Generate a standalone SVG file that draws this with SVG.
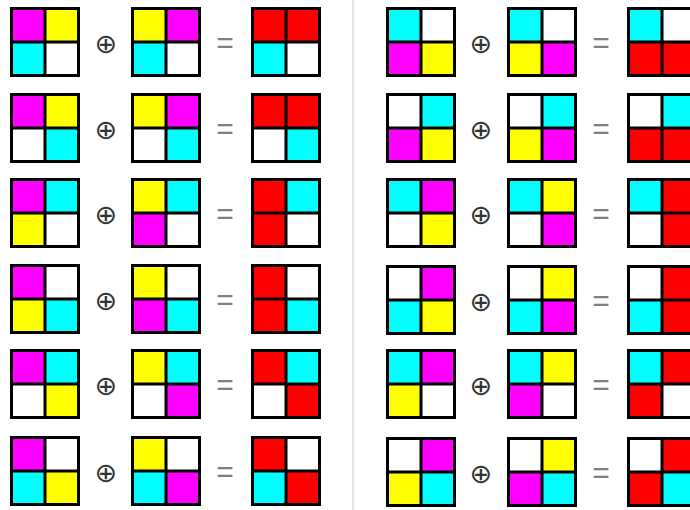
<svg xmlns="http://www.w3.org/2000/svg" xmlns:xlink="http://www.w3.org/1999/xlink" width="690" height="510" viewBox="0 0 690 510">
<style>
.m{fill:#ff00ff}.y{fill:#ffff00}.c{fill:#00ffff}.w{fill:#ffffff}.r{fill:#ff0000}
.fr{fill:none;stroke:#000;stroke-width:3}
.op{font-family:"DejaVu Sans",sans-serif;font-size:27px;fill:#333;text-anchor:middle;dominant-baseline:central}
.eq{font-family:"Liberation Sans",sans-serif;font-size:30px;fill:#808080;text-anchor:middle;dominant-baseline:central}
</style>
<defs>
<g id="frame"><rect class="fr" x="1.5" y="1.5" width="67" height="67"/><path class="fr" d="M35 0V70M0 35H70"/></g>
<rect id="tl" x="0" y="0" width="35" height="35"/>
<rect id="tr" x="35" y="0" width="35" height="35"/>
<rect id="bl" x="0" y="35" width="35" height="35"/>
<rect id="br" x="35" y="35" width="35" height="35"/>
</defs>
<rect width="690" height="510" fill="#fff"/>
<line x1="353" y1="0" x2="353" y2="510" stroke="#dddddd" stroke-width="1.5"/>
<!-- Left column -->
<g id="L1" transform="translate(0,7)">
<g id="L1a" transform="translate(10,0)"><use href="#tl" class="m"/><use href="#tr" class="y"/><use href="#bl" class="c"/><use href="#br" class="w"/><use href="#frame"/></g>
<text class="op" x="106" y="36">⊕</text>
<g id="L1b" transform="translate(131,0)"><use href="#tl" class="y"/><use href="#tr" class="m"/><use href="#bl" class="c"/><use href="#br" class="w"/><use href="#frame"/></g>
<text class="eq" x="225" y="35">=</text>
<g id="L1c" transform="translate(251,0)"><use href="#tl" class="r"/><use href="#tr" class="r"/><use href="#bl" class="c"/><use href="#br" class="w"/><use href="#frame"/></g>
</g>
<g id="L2" transform="translate(0,93)">
<g id="L2a" transform="translate(10,0)"><use href="#tl" class="m"/><use href="#tr" class="y"/><use href="#bl" class="w"/><use href="#br" class="c"/><use href="#frame"/></g>
<text class="op" x="106" y="36">⊕</text>
<g id="L2b" transform="translate(131,0)"><use href="#tl" class="y"/><use href="#tr" class="m"/><use href="#bl" class="w"/><use href="#br" class="c"/><use href="#frame"/></g>
<text class="eq" x="225" y="35">=</text>
<g id="L2c" transform="translate(251,0)"><use href="#tl" class="r"/><use href="#tr" class="r"/><use href="#bl" class="w"/><use href="#br" class="c"/><use href="#frame"/></g>
</g>
<g id="L3" transform="translate(0,178)">
<g id="L3a" transform="translate(10,0)"><use href="#tl" class="m"/><use href="#tr" class="c"/><use href="#bl" class="y"/><use href="#br" class="w"/><use href="#frame"/></g>
<text class="op" x="106" y="36">⊕</text>
<g id="L3b" transform="translate(131,0)"><use href="#tl" class="y"/><use href="#tr" class="c"/><use href="#bl" class="m"/><use href="#br" class="w"/><use href="#frame"/></g>
<text class="eq" x="225" y="35">=</text>
<g id="L3c" transform="translate(251,0)"><use href="#tl" class="r"/><use href="#tr" class="c"/><use href="#bl" class="r"/><use href="#br" class="w"/><use href="#frame"/></g>
</g>
<g id="L4" transform="translate(0,264)">
<g id="L4a" transform="translate(10,0)"><use href="#tl" class="m"/><use href="#tr" class="w"/><use href="#bl" class="y"/><use href="#br" class="c"/><use href="#frame"/></g>
<text class="op" x="106" y="36">⊕</text>
<g id="L4b" transform="translate(131,0)"><use href="#tl" class="y"/><use href="#tr" class="w"/><use href="#bl" class="m"/><use href="#br" class="c"/><use href="#frame"/></g>
<text class="eq" x="225" y="35">=</text>
<g id="L4c" transform="translate(251,0)"><use href="#tl" class="r"/><use href="#tr" class="w"/><use href="#bl" class="r"/><use href="#br" class="c"/><use href="#frame"/></g>
</g>
<g id="L5" transform="translate(0,349)">
<g id="L5a" transform="translate(10,0)"><use href="#tl" class="m"/><use href="#tr" class="c"/><use href="#bl" class="w"/><use href="#br" class="y"/><use href="#frame"/></g>
<text class="op" x="106" y="36">⊕</text>
<g id="L5b" transform="translate(131,0)"><use href="#tl" class="y"/><use href="#tr" class="c"/><use href="#bl" class="w"/><use href="#br" class="m"/><use href="#frame"/></g>
<text class="eq" x="225" y="35">=</text>
<g id="L5c" transform="translate(251,0)"><use href="#tl" class="r"/><use href="#tr" class="c"/><use href="#bl" class="w"/><use href="#br" class="r"/><use href="#frame"/></g>
</g>
<g id="L6" transform="translate(0,436)">
<g id="L6a" transform="translate(10,0)"><use href="#tl" class="m"/><use href="#tr" class="w"/><use href="#bl" class="c"/><use href="#br" class="y"/><use href="#frame"/></g>
<text class="op" x="106" y="36">⊕</text>
<g id="L6b" transform="translate(131,0)"><use href="#tl" class="y"/><use href="#tr" class="w"/><use href="#bl" class="c"/><use href="#br" class="m"/><use href="#frame"/></g>
<text class="eq" x="225" y="35">=</text>
<g id="L6c" transform="translate(251,0)"><use href="#tl" class="r"/><use href="#tr" class="w"/><use href="#bl" class="c"/><use href="#br" class="r"/><use href="#frame"/></g>
</g>
<!-- Right column -->
<g id="R1" transform="translate(0,7)">
<g id="R1a" transform="translate(386,0)"><use href="#tl" class="c"/><use href="#tr" class="w"/><use href="#bl" class="m"/><use href="#br" class="y"/><use href="#frame"/></g>
<text class="op" x="481" y="36">⊕</text>
<g id="R1b" transform="translate(507,0)"><use href="#tl" class="c"/><use href="#tr" class="w"/><use href="#bl" class="y"/><use href="#br" class="m"/><use href="#frame"/></g>
<text class="eq" x="601" y="35">=</text>
<g id="R1c" transform="translate(627,0)"><use href="#tl" class="c"/><use href="#tr" class="w"/><use href="#bl" class="r"/><use href="#br" class="r"/><use href="#frame"/></g>
</g>
<g id="R2" transform="translate(0,93)">
<g id="R2a" transform="translate(386,0)"><use href="#tl" class="w"/><use href="#tr" class="c"/><use href="#bl" class="m"/><use href="#br" class="y"/><use href="#frame"/></g>
<text class="op" x="481" y="36">⊕</text>
<g id="R2b" transform="translate(507,0)"><use href="#tl" class="w"/><use href="#tr" class="c"/><use href="#bl" class="y"/><use href="#br" class="m"/><use href="#frame"/></g>
<text class="eq" x="601" y="35">=</text>
<g id="R2c" transform="translate(627,0)"><use href="#tl" class="w"/><use href="#tr" class="c"/><use href="#bl" class="r"/><use href="#br" class="r"/><use href="#frame"/></g>
</g>
<g id="R3" transform="translate(0,178)">
<g id="R3a" transform="translate(386,0)"><use href="#tl" class="c"/><use href="#tr" class="m"/><use href="#bl" class="w"/><use href="#br" class="y"/><use href="#frame"/></g>
<text class="op" x="481" y="36">⊕</text>
<g id="R3b" transform="translate(507,0)"><use href="#tl" class="c"/><use href="#tr" class="y"/><use href="#bl" class="w"/><use href="#br" class="m"/><use href="#frame"/></g>
<text class="eq" x="601" y="35">=</text>
<g id="R3c" transform="translate(627,0)"><use href="#tl" class="c"/><use href="#tr" class="r"/><use href="#bl" class="w"/><use href="#br" class="r"/><use href="#frame"/></g>
</g>
<g id="R4" transform="translate(0,265)">
<g id="R4a" transform="translate(386,0)"><use href="#tl" class="w"/><use href="#tr" class="m"/><use href="#bl" class="c"/><use href="#br" class="y"/><use href="#frame"/></g>
<text class="op" x="481" y="36">⊕</text>
<g id="R4b" transform="translate(507,0)"><use href="#tl" class="w"/><use href="#tr" class="y"/><use href="#bl" class="c"/><use href="#br" class="m"/><use href="#frame"/></g>
<text class="eq" x="601" y="35">=</text>
<g id="R4c" transform="translate(627,0)"><use href="#tl" class="w"/><use href="#tr" class="r"/><use href="#bl" class="c"/><use href="#br" class="r"/><use href="#frame"/></g>
</g>
<g id="R5" transform="translate(0,349)">
<g id="R5a" transform="translate(386,0)"><use href="#tl" class="c"/><use href="#tr" class="m"/><use href="#bl" class="y"/><use href="#br" class="w"/><use href="#frame"/></g>
<text class="op" x="481" y="36">⊕</text>
<g id="R5b" transform="translate(507,0)"><use href="#tl" class="c"/><use href="#tr" class="y"/><use href="#bl" class="m"/><use href="#br" class="w"/><use href="#frame"/></g>
<text class="eq" x="601" y="35">=</text>
<g id="R5c" transform="translate(627,0)"><use href="#tl" class="c"/><use href="#tr" class="r"/><use href="#bl" class="r"/><use href="#br" class="w"/><use href="#frame"/></g>
</g>
<g id="R6" transform="translate(0,437)">
<g id="R6a" transform="translate(386,0)"><use href="#tl" class="w"/><use href="#tr" class="m"/><use href="#bl" class="y"/><use href="#br" class="c"/><use href="#frame"/></g>
<text class="op" x="481" y="36">⊕</text>
<g id="R6b" transform="translate(507,0)"><use href="#tl" class="w"/><use href="#tr" class="y"/><use href="#bl" class="m"/><use href="#br" class="c"/><use href="#frame"/></g>
<text class="eq" x="601" y="35">=</text>
<g id="R6c" transform="translate(627,0)"><use href="#tl" class="w"/><use href="#tr" class="r"/><use href="#bl" class="r"/><use href="#br" class="c"/><use href="#frame"/></g>
</g>
</svg>
